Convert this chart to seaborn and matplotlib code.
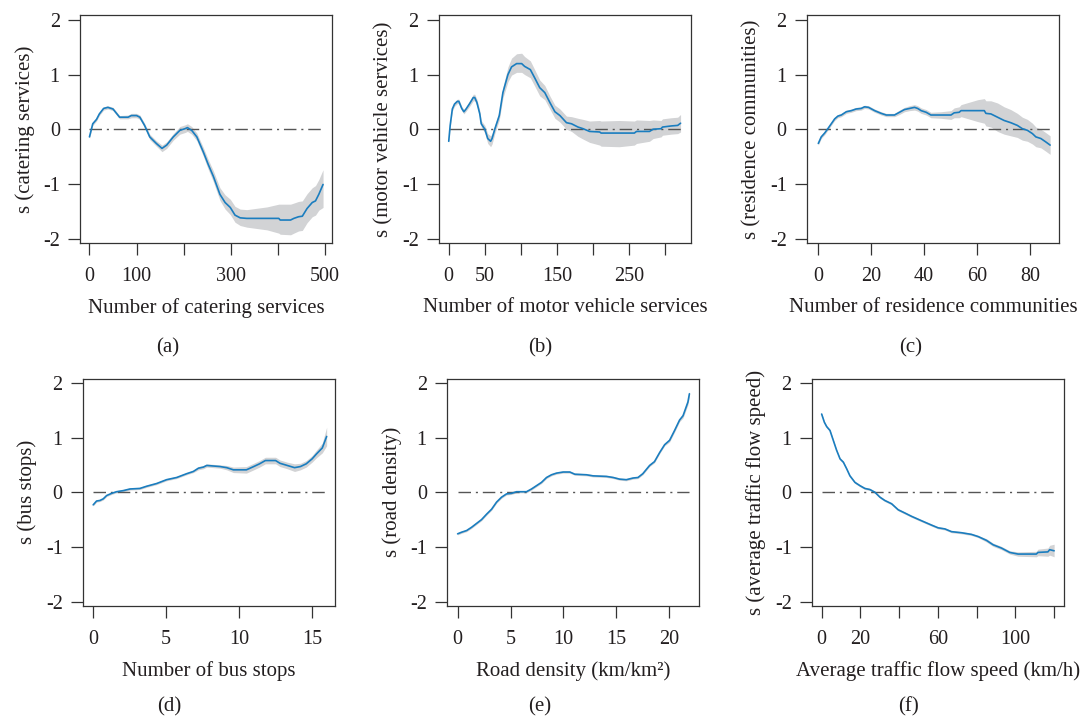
import numpy as np
import pandas as pd
import seaborn as sns
import matplotlib.pyplot as plt

sns.set_style("ticks")
plt.rcParams['font.family'] = ['Liberation Serif', 'DejaVu Serif']

# (a) catering services
a_x = [0, 7, 15, 21, 30, 39, 50, 64, 82, 89, 100, 107, 117, 128, 142, 154, 164, 178, 192, 203, 208,
       217, 228, 242, 252, 263, 277, 288, 299, 309, 320, 334, 377, 402, 405, 427, 434, 444, 452, 462,
       473, 480, 487, 496]
a_fit = [-0.14, 0.10, 0.18, 0.28, 0.38, 0.40, 0.37, 0.22, 0.22, 0.25, 0.25, 0.22, 0.07, -0.14, -0.26,
         -0.35, -0.29, -0.14, -0.02, 0.01, 0.03, -0.02, -0.14, -0.42, -0.64, -0.86, -1.19, -1.34, -1.43,
         -1.57, -1.62, -1.63, -1.63, -1.63, -1.66, -1.66, -1.63, -1.60, -1.59, -1.45, -1.34, -1.31, -1.19, -1.01]
a_lo = [-0.17, 0.07, 0.15, 0.25, 0.35, 0.37, 0.34, 0.19, 0.19, 0.21, 0.21, 0.18, 0.03, -0.19, -0.31,
        -0.41, -0.35, -0.20, -0.09, -0.06, -0.04, -0.09, -0.21, -0.50, -0.73, -0.96, -1.30, -1.46, -1.56,
        -1.70, -1.76, -1.79, -1.84, -1.90, -1.92, -1.93, -1.90, -1.86, -1.85, -1.71, -1.60, -1.57, -1.48, -1.43]
a_hi = [-0.11, 0.13, 0.21, 0.31, 0.41, 0.43, 0.40, 0.25, 0.26, 0.29, 0.29, 0.26, 0.11, -0.09, -0.21,
        -0.29, -0.23, -0.08, 0.05, 0.08, 0.10, 0.05, -0.07, -0.34, -0.55, -0.76, -1.07, -1.20, -1.28,
        -1.41, -1.46, -1.47, -1.42, -1.37, -1.37, -1.37, -1.35, -1.32, -1.31, -1.18, -1.07, -1.03, -0.92, -0.74]

# (b) motor vehicle services
b_x = [0, 2, 5, 8, 12, 14, 18, 21, 24, 29, 34, 36, 39, 43, 45, 50, 54, 58, 60, 64, 70, 75, 82, 87, 94,
       101, 105, 113, 119, 126, 133, 140, 147, 154, 163, 170, 179, 186, 195, 209, 211, 236, 257, 260,
       278, 283, 294, 296, 308, 317, 321]
b_fit = [-0.22, 0.07, 0.37, 0.46, 0.51, 0.51, 0.38, 0.32, 0.37, 0.47, 0.58, 0.58, 0.49, 0.28, 0.10, 0.00,
         -0.17, -0.22, -0.17, 0.01, 0.25, 0.67, 1.00, 1.14, 1.20, 1.20, 1.15, 1.09, 0.94, 0.76, 0.67, 0.49,
         0.32, 0.25, 0.12, 0.10, 0.04, 0.01, -0.04, -0.05, -0.07, -0.07, -0.07, -0.04, -0.04, 0.00, 0.01,
         0.04, 0.06, 0.07, 0.11]
b_lo = [-0.26, 0.03, 0.33, 0.42, 0.47, 0.47, 0.34, 0.28, 0.33, 0.42, 0.52, 0.52, 0.43, 0.22, 0.04, -0.07,
        -0.26, -0.32, -0.27, -0.07, 0.17, 0.57, 0.87, 0.99, 1.04, 1.04, 1.00, 0.94, 0.79, 0.61, 0.54, 0.37,
        0.20, 0.13, 0.00, -0.04, -0.13, -0.18, -0.24, -0.29, -0.31, -0.32, -0.29, -0.26, -0.22, -0.17, -0.14,
        -0.11, -0.09, -0.08, -0.05]
b_hi = [-0.18, 0.11, 0.41, 0.50, 0.55, 0.55, 0.42, 0.36, 0.41, 0.52, 0.64, 0.64, 0.55, 0.34, 0.16, 0.07,
        -0.08, -0.12, -0.08, 0.09, 0.33, 0.77, 1.14, 1.30, 1.38, 1.39, 1.33, 1.25, 1.09, 0.90, 0.80, 0.61,
        0.44, 0.37, 0.24, 0.23, 0.20, 0.18, 0.15, 0.16, 0.15, 0.16, 0.15, 0.17, 0.16, 0.17, 0.16, 0.19,
        0.21, 0.22, 0.27]

# (c) residence communities
c_x = [0, 1.1, 2.4, 3.6, 4.9, 6.2, 7.4, 8.7, 10.6, 12.5, 14.3, 16.2, 17.5, 19, 21.3, 23.8, 25.7, 28.8,
       30.7, 32.6, 34.5, 36.4, 37.6, 38.9, 40.8, 42.6, 46.4, 50.2, 51.4, 53.3, 54, 60.3, 62.8, 63.4, 65.3,
       67.8, 70.3, 72.8, 75.3, 77.2, 79.1, 81, 82.3, 84.2, 86, 87.7]
c_fit = [-0.26, -0.14, -0.07, 0.01, 0.10, 0.19, 0.24, 0.26, 0.32, 0.34, 0.37, 0.38, 0.41, 0.40, 0.34,
         0.29, 0.26, 0.26, 0.31, 0.36, 0.38, 0.40, 0.38, 0.34, 0.31, 0.26, 0.26, 0.26, 0.30, 0.31, 0.34,
         0.34, 0.34, 0.29, 0.28, 0.22, 0.16, 0.12, 0.07, 0.01, -0.02, -0.08, -0.14, -0.17, -0.23, -0.29]
c_lo = [-0.29, -0.17, -0.10, -0.02, 0.07, 0.16, 0.21, 0.23, 0.29, 0.31, 0.34, 0.35, 0.38, 0.37, 0.31,
        0.26, 0.23, 0.23, 0.27, 0.32, 0.34, 0.35, 0.33, 0.29, 0.26, 0.21, 0.20, 0.18, 0.21, 0.21, 0.23,
        0.14, 0.11, 0.06, 0.04, -0.04, -0.09, -0.12, -0.15, -0.20, -0.22, -0.27, -0.32, -0.34, -0.40, -0.46]
c_hi = [-0.23, -0.11, -0.04, 0.04, 0.13, 0.22, 0.27, 0.29, 0.35, 0.37, 0.40, 0.41, 0.44, 0.43, 0.37,
        0.32, 0.29, 0.29, 0.35, 0.40, 0.43, 0.45, 0.43, 0.39, 0.36, 0.31, 0.32, 0.34, 0.39, 0.41, 0.45,
        0.54, 0.56, 0.52, 0.52, 0.48, 0.41, 0.36, 0.29, 0.22, 0.18, 0.11, 0.04, 0.00, -0.06, -0.12]

# (d) bus stops
d_x = [0, 0.23, 0.46, 0.69, 0.92, 1.26, 1.6, 2.06, 2.52, 3.2, 3.66, 4.35, 5.03, 5.72, 6.41, 6.86, 7.21,
       7.55, 7.78, 8.7, 9.15, 9.61, 10.5, 11, 11.4, 11.8, 12.5, 12.8, 13.3, 13.8, 14.2, 14.6, 15, 15.3,
       15.7, 16]
d_fit = [-0.23, -0.16, -0.15, -0.12, -0.06, -0.02, 0.01, 0.03, 0.06, 0.07, 0.11, 0.16, 0.23, 0.27, 0.34,
         0.38, 0.44, 0.46, 0.49, 0.47, 0.45, 0.41, 0.41, 0.47, 0.52, 0.58, 0.58, 0.53, 0.49, 0.45, 0.47,
         0.52, 0.61, 0.70, 0.81, 1.02]
d_lo = [-0.25, -0.18, -0.17, -0.14, -0.08, -0.04, -0.01, 0.01, 0.04, 0.05, 0.09, 0.14, 0.21, 0.25, 0.32,
        0.36, 0.41, 0.43, 0.46, 0.44, 0.41, 0.36, 0.35, 0.41, 0.46, 0.52, 0.52, 0.47, 0.43, 0.38, 0.41,
        0.46, 0.55, 0.63, 0.72, 0.85]
d_hi = [-0.21, -0.14, -0.13, -0.10, -0.04, 0.00, 0.03, 0.05, 0.08, 0.09, 0.13, 0.18, 0.25, 0.29, 0.36,
        0.40, 0.47, 0.49, 0.52, 0.50, 0.49, 0.46, 0.47, 0.53, 0.58, 0.64, 0.64, 0.59, 0.55, 0.52, 0.53,
        0.58, 0.67, 0.77, 0.90, 1.19]

# (e) road density
e_x = [0, 0.38, 0.85, 1.32, 1.79, 2.26, 2.74, 3.21, 3.68, 4.15, 4.62, 5.09, 5.57, 6.51, 6.98, 7.45, 7.92,
       8.4, 8.87, 9.34, 9.97, 10.6, 11.07, 12.17, 12.8, 14.06, 14.7, 15.3, 15.94, 16.57, 17.04, 17.5,
       18.14, 18.6, 19.1, 19.56, 20.03, 20.5, 20.97, 21.3, 21.76, 21.9]
e_fit = [-0.76, -0.73, -0.70, -0.64, -0.57, -0.50, -0.40, -0.31, -0.18, -0.09, -0.03, -0.02, 0.01, 0.01,
         0.06, 0.12, 0.18, 0.27, 0.32, 0.35, 0.37, 0.37, 0.33, 0.32, 0.30, 0.29, 0.27, 0.24, 0.23, 0.26,
         0.27, 0.34, 0.49, 0.56, 0.73, 0.87, 0.95, 1.13, 1.32, 1.40, 1.65, 1.80]
e_lo = [-0.78, -0.75, -0.72, -0.66, -0.59, -0.52, -0.42, -0.33, -0.20, -0.11, -0.05, -0.04, -0.01, -0.01,
        0.04, 0.10, 0.16, 0.25, 0.30, 0.33, 0.35, 0.35, 0.31, 0.30, 0.28, 0.27, 0.25, 0.22, 0.21, 0.24,
        0.25, 0.32, 0.47, 0.54, 0.71, 0.85, 0.92, 1.10, 1.29, 1.36, 1.60, 1.75]
e_hi = [-0.74, -0.71, -0.68, -0.62, -0.55, -0.48, -0.38, -0.29, -0.16, -0.07, -0.01, 0.00, 0.03, 0.03,
        0.08, 0.14, 0.20, 0.29, 0.34, 0.37, 0.39, 0.39, 0.35, 0.34, 0.32, 0.31, 0.29, 0.26, 0.25, 0.28,
        0.29, 0.36, 0.51, 0.58, 0.75, 0.89, 0.98, 1.16, 1.35, 1.44, 1.70, 1.85]

# (f) average traffic flow speed
f_x = [0, 1.4, 2.6, 4.3, 6, 7.7, 9.5, 11.2, 12.9, 14.6, 17.2, 19.8, 22.3, 24.9, 27.5, 30.1, 32.6, 36.1,
       39.5, 43, 46.4, 51.5, 56.7, 60.1, 63.6, 67, 72.2, 77.3, 80.8, 85.1, 88.5, 92.8, 97.1, 101.4, 110.8,
       111.7, 116.8, 117.7, 120]
f_fit = [1.43, 1.28, 1.20, 1.13, 0.95, 0.77, 0.61, 0.55, 0.43, 0.30, 0.18, 0.12, 0.07, 0.05, 0.00, -0.09,
         -0.15, -0.21, -0.32, -0.38, -0.44, -0.52, -0.60, -0.65, -0.67, -0.72, -0.74, -0.77, -0.81, -0.88,
         -0.96, -1.02, -1.10, -1.13, -1.13, -1.10, -1.09, -1.05, -1.07]
f_lo = [1.41, 1.26, 1.18, 1.11, 0.93, 0.75, 0.59, 0.53, 0.41, 0.28, 0.16, 0.10, 0.05, 0.03, -0.02, -0.11,
        -0.17, -0.23, -0.34, -0.40, -0.46, -0.54, -0.62, -0.67, -0.69, -0.74, -0.76, -0.79, -0.83, -0.91,
        -0.99, -1.05, -1.13, -1.17, -1.18, -1.16, -1.17, -1.15, -1.18]
f_hi = [1.45, 1.30, 1.22, 1.15, 0.97, 0.79, 0.63, 0.57, 0.45, 0.32, 0.20, 0.14, 0.09, 0.07, 0.02, -0.07,
        -0.13, -0.19, -0.30, -0.36, -0.42, -0.50, -0.58, -0.63, -0.65, -0.70, -0.72, -0.75, -0.79, -0.85,
        -0.93, -0.99, -1.07, -1.09, -1.08, -1.04, -1.02, -0.97, -0.95]

panels = [
    (a_x, a_fit, a_lo, a_hi, "s (catering services)", "Number of catering services",
     [0, 100, 200, 300, 400, 500], ["0", "100", "", "300", "", "500"], (-20, 516), "(a)"),
    (b_x, b_fit, b_lo, b_hi, "s (motor vehicle services)", "Number of motor vehicle services",
     [0, 50, 100, 150, 200, 250, 300], ["0", "50", "", "150", "", "250", ""], (-13.5, 336), "(b)"),
    (c_x, c_fit, c_lo, c_hi, "s (residence communities)", "Number of residence communities",
     [0, 20, 40, 60, 80], ["0", "20", "40", "60", "80"], (-4.3, 91.2), "(c)"),
    (d_x, d_fit, d_lo, d_hi, "s (bus stops)", "Number of bus stops",
     [0, 5, 10, 15], ["0", "5", "10", "15"], (-0.7, 16.6), "(d)"),
    (e_x, e_fit, e_lo, e_hi, "s (road density)", "Road density (km/km²)",
     [0, 5, 10, 15, 20], ["0", "5", "10", "15", "20"], (-1.0, 22.85), "(e)"),
    (f_x, f_fit, f_lo, f_hi, "s (average traffic flow speed)", "Average traffic flow speed (km/h)",
     [0, 20, 40, 60, 80, 100, 120], ["0", "20", "", "60", "", "100", ""], (-5, 125.3), "(f)"),
]

# box positions in figure fractions, caption x centres
boxes = [(0.0735, 0.6625), (0.4031, 0.6625), (0.7410, 0.6625),
         (0.0762, 0.1583), (0.4105, 0.1583), (0.7456, 0.1583)]
caption_x = [0.154, 0.496, 0.836, 0.155, 0.496, 0.834]
caption_y = [0.504, 0.504, 0.504, 0.005, 0.005, 0.005]

line_col = "#1a7dbf"
band_col = "#d2d3d5"
txt_col = "#231f20"

fig = plt.figure(figsize=(10.89, 7.2), dpi=100)
for i, (x, fit, lo, hi, ylab, xlab, ticks, tlabels, xlim, cap) in enumerate(panels):
    ax = fig.add_axes([boxes[i][0], boxes[i][1], 0.2318, 0.316])
    ax.fill_between(x, lo, hi, color=band_col, linewidth=0)
    ax.hlines(0, x[0], x[-1], colors="#555555", linewidth=1.0, linestyles=(0, (9, 3.5, 1.5, 3.5)))
    df = pd.DataFrame({"x": x, "y": fit})
    sns.lineplot(data=df, x="x", y="y", ax=ax, color=line_col, linewidth=1.2, errorbar=None)
    ax.set_xlim(*xlim)
    ax.set_ylim(-2.08, 2.08)
    ax.set_yticks([-2, -1, 0, 1, 2])
    ax.set_yticklabels(["-2", "-1", "0", "1", "2"])
    ax.set_xticks(ticks)
    ax.set_xticklabels(tlabels)
    ax.tick_params(direction="out", length=8.6, width=0.9, color="#333333", labelsize=14.5,
                   labelcolor=txt_col)
    ax.tick_params(axis="x", pad=8.5)
    ax.tick_params(axis="y", pad=6)
    for sp in ax.spines.values():
        sp.set_visible(True)
        sp.set_color("#333333")
        sp.set_linewidth(0.9)
    ax.set_xlabel(xlab, fontsize=15, color=txt_col, labelpad=9)
    ax.set_ylabel(ylab, fontsize=15, color=txt_col, labelpad=6)
    fig.text(caption_x[i], caption_y[i], cap, ha="center", va="bottom", fontsize=15, color=txt_col)

plt.savefig("out.png", dpi=100)
